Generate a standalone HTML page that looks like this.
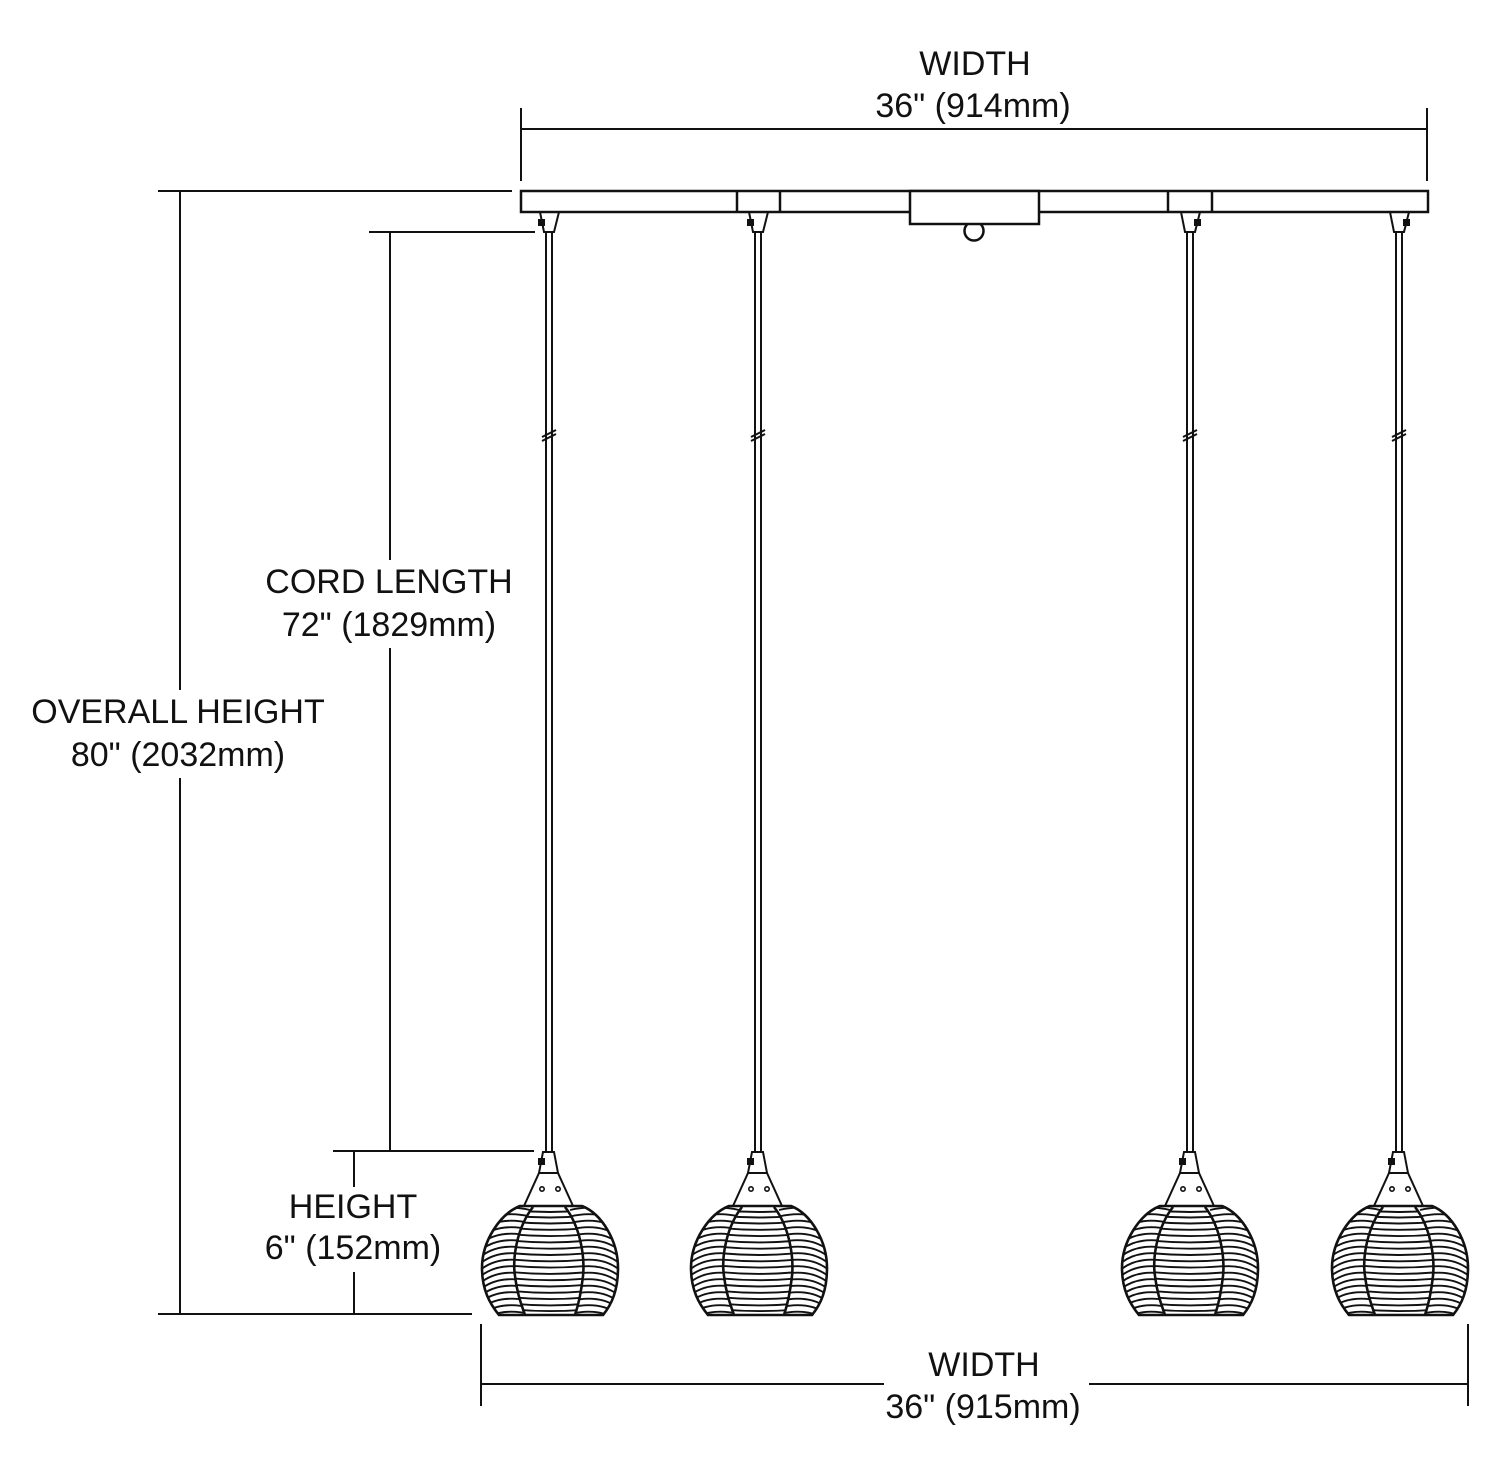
<!DOCTYPE html>
<html>
<head>
<meta charset="utf-8">
<style>
  html,body{margin:0;padding:0;background:#fff;}
  svg{display:block;}
  text{font-family:"Liberation Sans",Arial,sans-serif;font-size:34px;fill:#111;}
</style>
</head>
<body>
<svg width="1500" height="1475" viewBox="0 0 1500 1475" xmlns="http://www.w3.org/2000/svg">
  <defs>
    <clipPath id="shellClip">
      <path d="M -30 0 L 32 0 C 52 8, 68 35, 68 62 C 68 84, 62 98, 53 109 L -51 109 C -60 98, -68 84, -68 62 C -68 35, -50 8, -30 0 Z"/>
    </clipPath>
    <clipPath id="centerClip">
      <path d="M -17 0 C -32 20, -38 50, -35 70 C -33 88, -28 100, -25 109 L 25 109 C 28 100, 31 88, 33 70 C 35 50, 30 20, 15 0 Z"/>
    </clipPath>
    <g id="shade">
      <g clip-path="url(#shellClip)" stroke="#111" stroke-width="1.9" fill="none">
        <path d="M -20 4 Q -55 -4 -74 16"/>
        <path d="M -20 10.5 Q -55 2.5 -74 22.5"/>
        <path d="M -20 17 Q -55 9 -74 29"/>
        <path d="M -20 23.5 Q -55 15.5 -74 35.5"/>
        <path d="M -20 30 Q -55 22 -74 42"/>
        <path d="M -20 36.5 Q -55 28.5 -74 48.5"/>
        <path d="M -20 43 Q -55 35 -74 55"/>
        <path d="M -20 49.5 Q -55 41.5 -74 61.5"/>
        <path d="M -20 56 Q -55 48 -74 68"/>
        <path d="M -20 62.5 Q -55 54.5 -74 74.5"/>
        <path d="M -20 69 Q -55 61 -74 81"/>
        <path d="M -20 75.5 Q -55 67.5 -74 87.5"/>
        <path d="M -20 82 Q -55 74 -74 94"/>
        <path d="M -20 88.5 Q -55 80.5 -74 100.5"/>
        <path d="M -20 95 Q -55 87 -74 107"/>
        <path d="M -20 101.5 Q -55 93.5 -74 113.5"/>
        <path d="M -20 108 Q -55 100 -74 120"/>
        <path d="M 20 4 Q 55 -4 74 16"/>
        <path d="M 20 10.5 Q 55 2.5 74 22.5"/>
        <path d="M 20 17 Q 55 9 74 29"/>
        <path d="M 20 23.5 Q 55 15.5 74 35.5"/>
        <path d="M 20 30 Q 55 22 74 42"/>
        <path d="M 20 36.5 Q 55 28.5 74 48.5"/>
        <path d="M 20 43 Q 55 35 74 55"/>
        <path d="M 20 49.5 Q 55 41.5 74 61.5"/>
        <path d="M 20 56 Q 55 48 74 68"/>
        <path d="M 20 62.5 Q 55 54.5 74 74.5"/>
        <path d="M 20 69 Q 55 61 74 81"/>
        <path d="M 20 75.5 Q 55 67.5 74 87.5"/>
        <path d="M 20 82 Q 55 74 74 94"/>
        <path d="M 20 88.5 Q 55 80.5 74 100.5"/>
        <path d="M 20 95 Q 55 87 74 107"/>
        <path d="M 20 101.5 Q 55 93.5 74 113.5"/>
        <path d="M 20 108 Q 55 100 74 120"/>
      </g>
      <path d="M -17 0 C -32 20, -38 50, -35 70 C -33 88, -28 100, -25 109 L 25 109 C 28 100, 31 88, 33 70 C 35 50, 30 20, 15 0 Z" fill="#fff" stroke="none"/>
      <g clip-path="url(#centerClip)" stroke="#111" stroke-width="1.9" fill="none">
        <path d="M -40 4 Q 0 8 40 4"/>
        <path d="M -40 9.5 Q 0 13.5 40 9.5"/>
        <path d="M -40 15.5 Q 0 19.5 40 15.5"/>
        <path d="M -40 21.8 Q 0 25.8 40 21.8"/>
        <path d="M -40 28.1 Q 0 32.1 40 28.1"/>
        <path d="M -40 34.4 Q 0 38.4 40 34.4"/>
        <path d="M -40 40.7 Q 0 44.7 40 40.7"/>
        <path d="M -40 47 Q 0 51 40 47"/>
        <path d="M -40 53.3 Q 0 57.3 40 53.3"/>
        <path d="M -40 59.6 Q 0 63.6 40 59.6"/>
        <path d="M -40 65.9 Q 0 69.9 40 65.9"/>
        <path d="M -40 72.2 Q 0 76.2 40 72.2"/>
        <path d="M -40 78.5 Q 0 82.5 40 78.5"/>
        <path d="M -40 84.8 Q 0 88.8 40 84.8"/>
        <path d="M -40 91.1 Q 0 95.1 40 91.1"/>
        <path d="M -40 97.4 Q 0 101.4 40 97.4"/>
        <path d="M -40 103.2 Q 0 107 40 103.2"/>
      </g>
      <g stroke="#111" fill="none" stroke-width="2.6">
        <path d="M -17 1 C -32 20, -38 50, -35 70 C -33 88, -28 100, -25 109"/>
        <path d="M 15 1 C 30 20, 35 50, 33 70 C 31 88, 28 100, 25 109"/>
        <path d="M -30 0 L 32 0 C 52 8, 68 35, 68 62 C 68 84, 62 98, 53 109 L -51 109 C -60 98, -68 84, -68 62 C -68 35, -50 8, -30 0 Z"/>
      </g>
    </g>
    <g id="lowerFit" stroke="#111" stroke-width="2" fill="#fff">
      <path d="M -6 1152 L 5 1152 L 9 1173 L -10 1173 Z"/>
      <path d="M -10 1173 L 9 1173 L 24 1206 L -25 1206 Z"/>
      <circle cx="-7" cy="1189" r="2.2" fill="#fff" stroke-width="1.6"/>
      <circle cx="9" cy="1189" r="2.2" fill="#fff" stroke-width="1.6"/>
      <rect x="-11" y="1158" width="7" height="7" fill="#111" stroke="none"/>
    </g>
    <g id="cord" stroke="#111" stroke-width="2" fill="none">
      <line x1="-3" y1="232" x2="-3" y2="1152"/>
      <line x1="3" y1="232" x2="3" y2="1152"/>
      <line x1="-7" y1="437" x2="7" y2="430"/>
      <line x1="-7" y1="441" x2="7" y2="434"/>
      <path d="M -9 212 L 10 212 L 5 232 L -5 232 Z" fill="#fff"/>
    </g>
  </defs>

  <!-- Top width dimension -->
  <g stroke="#111" stroke-width="2" fill="none">
    <line x1="521" y1="108" x2="521" y2="181"/>
    <line x1="1427" y1="108" x2="1427" y2="181"/>
    <line x1="521" y1="129" x2="1427" y2="129"/>
  </g>
  <text x="975" y="75" text-anchor="middle">WIDTH</text>
  <text x="973" y="117" text-anchor="middle">36" (914mm)</text>

  <!-- Overall height dimension -->
  <g stroke="#111" stroke-width="2" fill="none">
    <line x1="158" y1="191" x2="512" y2="191"/>
    <line x1="180" y1="191" x2="180" y2="690"/>
    <line x1="180" y1="778" x2="180" y2="1314"/>
    <line x1="158" y1="1314" x2="472" y2="1314"/>
    <line x1="369" y1="232" x2="535" y2="232"/>
    <line x1="390" y1="232" x2="390" y2="560"/>
    <line x1="390" y1="648" x2="390" y2="1151"/>
    <line x1="333" y1="1151" x2="534" y2="1151"/>
    <line x1="354" y1="1151" x2="354" y2="1187"/>
    <line x1="354" y1="1272" x2="354" y2="1314"/>
  </g>
  <text x="178" y="723" text-anchor="middle">OVERALL HEIGHT</text>
  <text x="178" y="766" text-anchor="middle">80" (2032mm)</text>
  <text x="389" y="593" text-anchor="middle">CORD LENGTH</text>
  <text x="389" y="636" text-anchor="middle">72" (1829mm)</text>
  <text x="353" y="1218" text-anchor="middle">HEIGHT</text>
  <text x="353" y="1259" text-anchor="middle">6" (152mm)</text>

  <!-- Bottom width dimension -->
  <g stroke="#111" stroke-width="2" fill="none">
    <line x1="481" y1="1324" x2="481" y2="1406"/>
    <line x1="1468" y1="1324" x2="1468" y2="1406"/>
    <line x1="481" y1="1384" x2="884" y2="1384"/>
    <line x1="1089" y1="1384" x2="1468" y2="1384"/>
  </g>
  <text x="984" y="1376" text-anchor="middle">WIDTH</text>
  <text x="983" y="1418" text-anchor="middle">36" (915mm)</text>

  <!-- Pendants -->
  <use href="#cord" transform="translate(549,0)"/>
  <use href="#cord" transform="translate(758,0)"/>
  <use href="#cord" transform="translate(1190,0)"/>
  <use href="#cord" transform="translate(1399,0)"/>
  <rect x="538" y="219" width="7" height="7" fill="#111"/>
  <rect x="747" y="219" width="7" height="7" fill="#111"/>
  <rect x="1194" y="219" width="7" height="7" fill="#111"/>
  <rect x="1403" y="219" width="7" height="7" fill="#111"/>

  <use href="#lowerFit" transform="translate(549,0)"/>
  <use href="#lowerFit" transform="translate(758,0)"/>
  <use href="#lowerFit" transform="translate(1190,0)"/>
  <use href="#lowerFit" transform="translate(1399,0)"/>

  <use href="#shade" transform="translate(550,1206)"/>
  <use href="#shade" transform="translate(759,1206)"/>
  <use href="#shade" transform="translate(1190,1206)"/>
  <use href="#shade" transform="translate(1400,1206)"/>

  <!-- Canopy -->
  <g stroke="#111" stroke-width="2.5" fill="#fff">
    <circle cx="974" cy="231" r="9.5" fill="none"/>
    <rect x="521" y="191" width="907" height="21"/>
    <line x1="737" y1="191" x2="737" y2="212"/>
    <line x1="780" y1="191" x2="780" y2="212"/>
    <line x1="1168" y1="191" x2="1168" y2="212"/>
    <line x1="1212" y1="191" x2="1212" y2="212"/>
    <rect x="910" y="191" width="129" height="33"/>
  </g>
</svg>
</body>
</html>
